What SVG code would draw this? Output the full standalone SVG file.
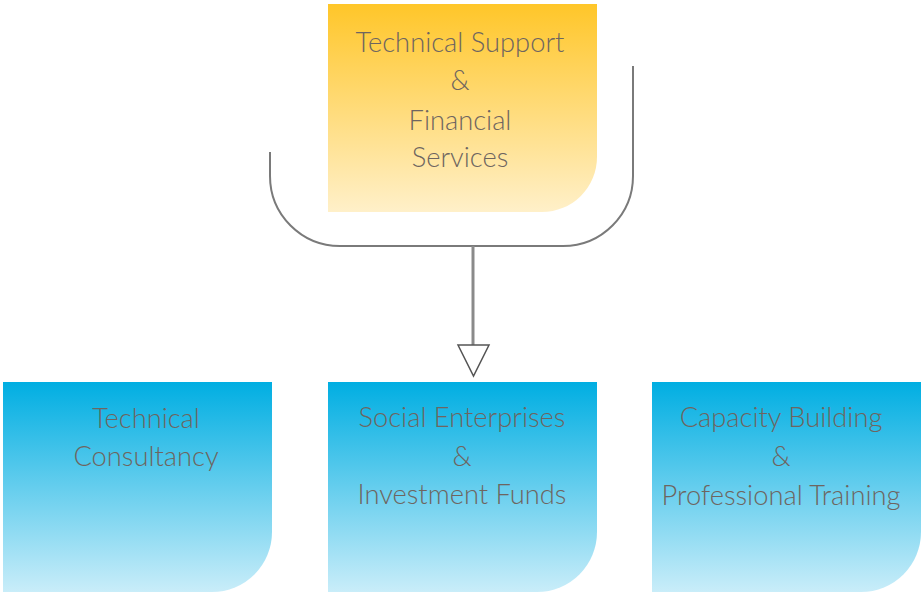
<svg xmlns="http://www.w3.org/2000/svg" width="922" height="594" viewBox="0 0 922 594">
<defs>
<linearGradient id="gy" x1="0" y1="0" x2="0" y2="1">
<stop offset="0" stop-color="#FFC629"/>
<stop offset="1" stop-color="#FFF0C9"/>
</linearGradient>
<linearGradient id="gb" x1="0" y1="0" x2="0" y2="1">
<stop offset="0" stop-color="#00AEE2"/>
<stop offset="1" stop-color="#C9EDF9"/>
</linearGradient>
<style>
text{font-family:Lato,"Liberation Sans",sans-serif;font-weight:300;font-size:27.3px;fill:#6E6560;text-anchor:middle}
.br{fill:none;stroke:#7A7A7A;stroke-width:2}
.ar{fill:none;stroke:#8A8A8A;stroke-width:3}
.hd{fill:#FFFFFF;stroke:#555555;stroke-width:1.5}
</style>
</defs>
<rect width="922" height="594" fill="#FFFFFF"/>
<g id="connectors">
<path class="br" d="M270 152 V176 A70 70 0 0 0 340 246 H563 A70 70 0 0 0 633 176 V66"/>
<line class="ar" x1="473" y1="246" x2="473" y2="346"/>
<polygon class="hd" points="458,345 489,345 473.5,376"/>
</g>
<g id="top">
<path d="M328 4 H597 V157 A55 55 0 0 1 542 212 H328 Z" fill="url(#gy)"/>
<text x="460" y="52">Technical Support</text>
<text x="460" y="90">&amp;</text>
<text x="460" y="130">Financial</text>
<text x="460" y="167">Services</text>
</g>
<g id="consultancy">
<path d="M3 382 H272 V532 A60 60 0 0 1 212 592 H3 Z" fill="url(#gb)"/>
<text x="146" y="428">Technical</text>
<text x="146" y="466">Consultancy</text>
</g>
<g id="social">
<path d="M328 382 H597 V532 A60 60 0 0 1 537 592 H328 Z" fill="url(#gb)"/>
<text x="462" y="427">Social Enterprises</text>
<text x="462" y="466">&amp;</text>
<text x="462" y="504">Investment Funds</text>
</g>
<g id="capacity">
<path d="M652 382 H921 V532 A60 60 0 0 1 861 592 H652 Z" fill="url(#gb)"/>
<text x="781" y="427">Capacity Building</text>
<text x="781" y="466">&amp;</text>
<text x="781" y="505">Professional Training</text>
</g>
</svg>
